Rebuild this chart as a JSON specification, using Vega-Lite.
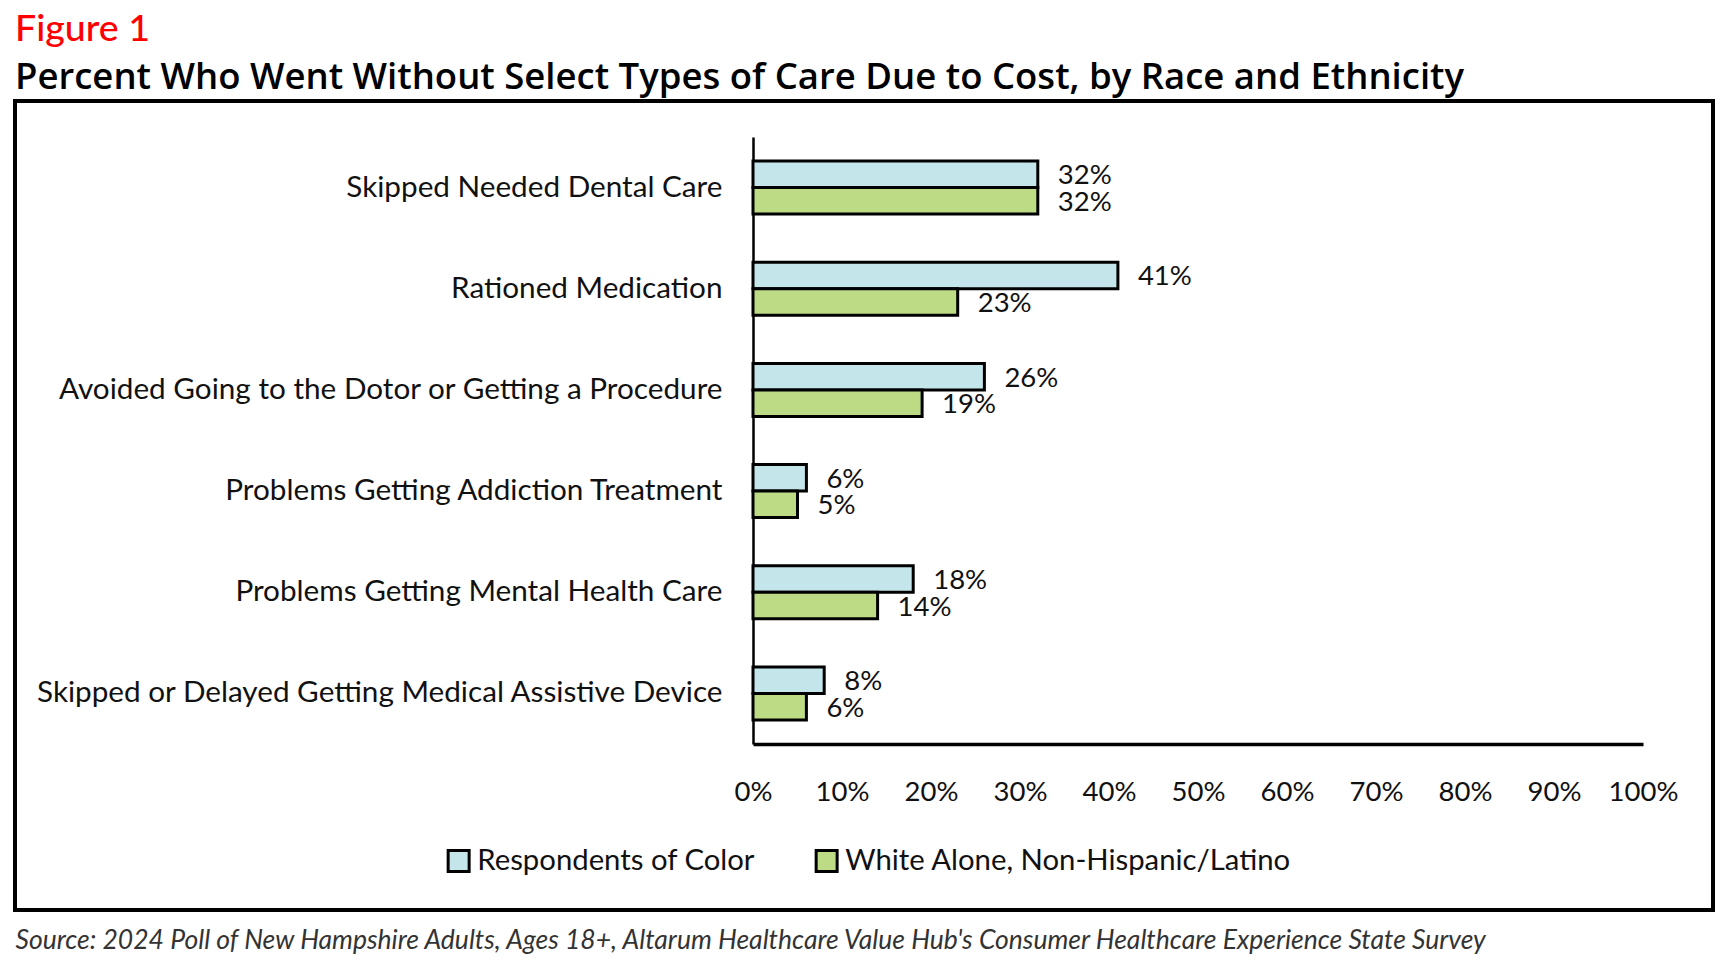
{
  "$schema": "https://vega.github.io/schema/vega-lite/v6.json",
  "width": 1698,
  "height": 809,
  "autosize": "none",
  "padding": {"left": 15, "top": 101, "right": 15, "bottom": 51},
  "background": "white",
  "title": {
    "text": "Figure 1",
    "subtitle": "Percent Who Went Without Select Types of Care Due to Cost, by Race and Ethnicity",
    "anchor": "start",
    "frame": "group",
    "font": "Lato",
    "fontSize": 37.5,
    "fontWeight": 500,
    "color": "#ff0000",
    "subtitleFont": "Open Sans",
    "subtitleFontSize": 36.5,
    "subtitleFontWeight": 600,
    "subtitleColor": "#000000",
    "subtitlePadding": 11,
    "offset": 5
  },
  "data": {
    "values": [
      {"care": "Skipped Needed Dental Care", "group": "Respondents of Color", "pct": 0.32},
      {"care": "Skipped Needed Dental Care", "group": "White Alone, Non-Hispanic/Latino", "pct": 0.32},
      {"care": "Rationed Medication", "group": "Respondents of Color", "pct": 0.41},
      {"care": "Rationed Medication", "group": "White Alone, Non-Hispanic/Latino", "pct": 0.23},
      {"care": "Avoided Going to the Dotor or Getting a Procedure", "group": "Respondents of Color", "pct": 0.26},
      {"care": "Avoided Going to the Dotor or Getting a Procedure", "group": "White Alone, Non-Hispanic/Latino", "pct": 0.19},
      {"care": "Problems Getting Addiction Treatment", "group": "Respondents of Color", "pct": 0.06},
      {"care": "Problems Getting Addiction Treatment", "group": "White Alone, Non-Hispanic/Latino", "pct": 0.05},
      {"care": "Problems Getting Mental Health Care", "group": "Respondents of Color", "pct": 0.18},
      {"care": "Problems Getting Mental Health Care", "group": "White Alone, Non-Hispanic/Latino", "pct": 0.14},
      {"care": "Skipped or Delayed Getting Medical Assistive Device", "group": "Respondents of Color", "pct": 0.08},
      {"care": "Skipped or Delayed Getting Medical Assistive Device", "group": "White Alone, Non-Hispanic/Latino", "pct": 0.06}
    ]
  },
  "encoding": {
    "y": {
      "field": "care",
      "type": "nominal",
      "sort": null,
      "scale": {"range": [36, 643], "paddingInner": 0.476, "paddingOuter": 0.238},
      "axis": {
        "title": null,
        "offset": -738,
        "domainColor": "#000000",
        "domainWidth": 2.5,
        "ticks": false,
        "tickSize": 0,
        "labelPadding": 31,
        "labelFont": "Lato",
        "labelFontSize": 29.7,
        "labelColor": "#111111",
        "labelLimit": 0
      }
    },
    "x": {
      "field": "pct",
      "type": "quantitative",
      "scale": {"domain": [0, 1], "range": [738, 1628]},
      "axis": {
        "values": [0, 0.1, 0.2, 0.3, 0.4, 0.5, 0.6, 0.7, 0.8, 0.9, 1],
        "format": ".0%",
        "offset": -166,
        "domainColor": "#000000",
        "domainWidth": 3.5,
        "ticks": false,
        "tickSize": 0,
        "grid": false,
        "labelPadding": 48,
        "labelBaseline": "middle",
        "labelFont": "Lato",
        "labelFontSize": 27.5,
        "labelColor": "#111111",
        "labelFlush": false,
        "title": "Source: 2024 Poll of New Hampshire Adults, Ages 18+, Altarum Healthcare Value Hub's Consumer Healthcare Experience State Survey",
        "titleFont": "Lato",
        "titleFontSize": 26.5,
        "titleFontStyle": "italic",
        "titleFontWeight": "normal",
        "titleColor": "#333333",
        "titleX": 0,
        "titleY": 204,
        "titleAlign": "left",
        "titleBaseline": "alphabetic"
      }
    },
    "yOffset": {"field": "group", "sort": null, "scale": {"paddingInner": 0, "paddingOuter": 0}}
  },
  "layer": [
    {
      "mark": {"type": "bar", "stroke": "#000000", "strokeWidth": 3},
      "encoding": {
        "color": {
          "field": "group",
          "type": "nominal",
          "sort": null,
          "scale": {
            "domain": ["Respondents of Color", "White Alone, Non-Hispanic/Latino"],
            "range": ["#c4e6eb", "#bddb84"]
          },
          "legend": {
            "title": null,
            "orient": "none",
            "legendX": 429,
            "legendY": 745,
            "direction": "horizontal",
            "padding": 0,
            "symbolType": "square",
            "symbolSize": 440,
            "symbolStrokeColor": "#000000",
            "symbolStrokeWidth": 3,
            "symbolOpacity": 1,
            "labelFont": "Lato",
            "labelFontSize": 29.3,
            "labelColor": "#111111",
            "labelOffset": 4,
            "labelLimit": 0,
            "columnPadding": 54
          }
        }
      }
    },
    {
      "mark": {"type": "text", "align": "left", "baseline": "middle", "dx": 20, "dy": 2, "font": "Lato", "fontSize": 27.5, "color": "#111111"},
      "encoding": {
        "text": {"field": "pct", "type": "quantitative", "format": ".0%"}
      }
    }
  ],
  "config": {
    "view": {"stroke": "#000000", "strokeWidth": 4},
    "axis": {"grid": false}
  }
}
